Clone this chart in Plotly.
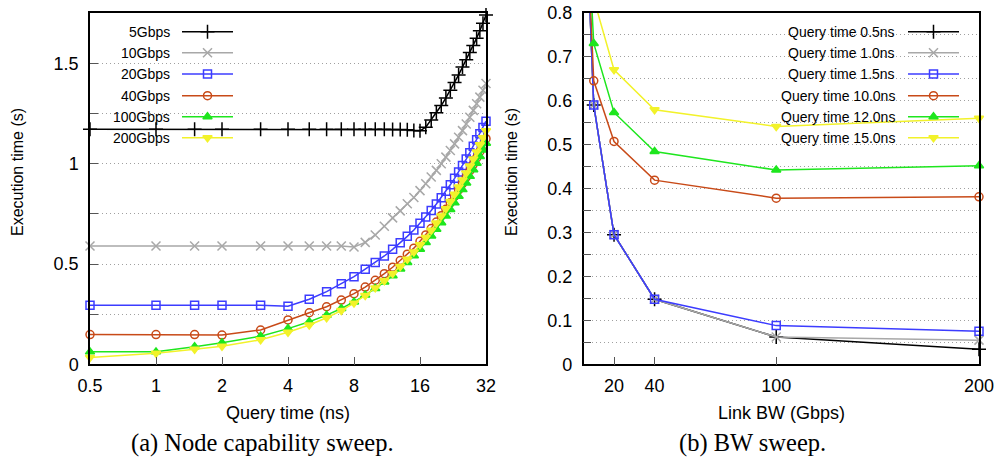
import math
import plotly.graph_objects as go

W, H = 998, 471

# ---------------- data ----------------
query_ns = [0.5, 1, 1.5, 2, 3, 4, 5, 6, 7, 8, 9, 10, 11, 12, 13, 14, 15, 16,
            17, 18, 19, 20, 21, 22, 23, 24, 25, 26, 27, 28, 29, 30, 31, 32]
query_ticks = [0.5, 1, 2, 4, 8, 16, 32]
query_ticktext = ["0.5", "1", "2", "4", "8", "16", "32"]

bw_gbps = [5, 10, 20, 40, 100, 200]
bw_labels = ["5Gbps", "10Gbps", "20Gbps", "40Gbps", "100Gbps", "200Gbps"]
bw_ticks = [20, 40, 100, 200]

exec_5g = [1.172, 1.172, 1.172, 1.172, 1.172, 1.172, 1.172, 1.172, 1.172, 1.172, 1.172, 1.172,
           1.172, 1.171, 1.171, 1.170, 1.166, 1.164, 1.182, 1.218, 1.254, 1.290, 1.328, 1.366,
           1.405, 1.443, 1.482, 1.518, 1.555, 1.590, 1.626, 1.663, 1.700, 1.742]
exec_10g = [0.590, 0.590, 0.590, 0.590, 0.590, 0.590, 0.590, 0.590, 0.590, 0.585, 0.608, 0.645,
            0.688, 0.730, 0.765, 0.800, 0.832, 0.866, 0.900, 0.934, 0.967, 1.000, 1.033, 1.066,
            1.099, 1.132, 1.165, 1.198, 1.232, 1.266, 1.299, 1.332, 1.366, 1.400]
exec_20g = [0.295, 0.295, 0.295, 0.295, 0.295, 0.289, 0.324, 0.362, 0.402, 0.437, 0.474, 0.507,
            0.540, 0.573, 0.606, 0.638, 0.670, 0.703, 0.735, 0.767, 0.799, 0.831, 0.863, 0.895,
            0.927, 0.959, 0.991, 1.023, 1.055, 1.087, 1.119, 1.150, 1.181, 1.212]
exec_40g = [0.148, 0.148, 0.148, 0.146, 0.171, 0.221, 0.257, 0.287, 0.320, 0.352, 0.385, 0.419,
            0.452, 0.484, 0.517, 0.549, 0.579, 0.613, 0.645, 0.677, 0.709, 0.741, 0.773, 0.805,
            0.837, 0.869, 0.901, 0.933, 0.965, 0.997, 1.029, 1.061, 1.093, 1.125]
exec_100g = [0.062, 0.062, 0.088, 0.107, 0.140, 0.178, 0.212, 0.245, 0.278, 0.311, 0.345, 0.378,
             0.410, 0.442, 0.475, 0.508, 0.541, 0.574, 0.607, 0.640, 0.673, 0.706, 0.739, 0.772,
             0.805, 0.838, 0.871, 0.904, 0.937, 0.970, 1.003, 1.036, 1.069, 1.102]
exec_200g = [0.034, 0.055, 0.075, 0.090, 0.122, 0.160, 0.196, 0.232, 0.268, 0.305, 0.343, 0.381,
             0.416, 0.452, 0.488, 0.524, 0.560, 0.596, 0.632, 0.668, 0.704, 0.740, 0.776, 0.812,
             0.848, 0.884, 0.919, 0.954, 0.989, 1.024, 1.059, 1.094, 1.129, 1.164]
exec_by_bw = [exec_5g, exec_10g, exec_20g, exec_40g, exec_100g, exec_200g]

sel_query = [0.5, 1.0, 1.5, 10, 12, 15]
sel_labels = ["Query time 0.5ns", "Query time 1.0ns", "Query time 1.5ns",
              "Query time 10.0ns", "Query time 12.0ns", "Query time 15.0ns"]

# ---------------- styles ----------------
colors = ["#000000", "#a8a8a8", "#3c3cff", "#c84a18", "#1ee61e", "#f2f22a"]
symbols = ["cross-thin-open", "x-thin-open", "square-open", "circle-open", "triangle-up", "triangle-down"]
msizes = [10, 9, 8, 8, 8, 8]
SANS = "Liberation Sans, Arial, sans-serif"
SERIF = "Liberation Serif, Times New Roman, serif"

# plot-area frames in pixels (left, right, top, bottom)
L1, R1, T1, B1 = 90.0, 486.0, 13.3, 364.3
L2, R2, T2, B2 = 583.6, 979.0, 12.7, 364.3


def px(x):
    return x / W


def py(y):
    return 1 - y / H


def marker(i, opacity=None):
    m = dict(symbol=symbols[i], size=msizes[i], color=colors[i],
             line=dict(color=colors[i], width=1.5))
    if opacity is not None:
        m["opacity"] = opacity
    return m


fig = go.Figure()

# left chart: execution time vs query time, one line per bandwidth
for i, ys in enumerate(exec_by_bw):
    fig.add_trace(go.Scatter(x=query_ns, y=ys, mode="lines+markers", name=bw_labels[i],
                             line=dict(color=colors[i], width=1.5), marker=marker(i),
                             cliponaxis=False, showlegend=False, xaxis="x", yaxis="y"))

# right chart: execution time vs link BW, one line per query time
Y2MAX = 0.8
for i, q in enumerate(sel_query):
    k = query_ns.index(q)
    ys = [series[k] for series in exec_by_bw]
    op = [1 if v <= Y2MAX else 0 for v in ys]
    fig.add_trace(go.Scatter(x=bw_gbps, y=ys, mode="lines+markers", name=sel_labels[i],
                             line=dict(color=colors[i], width=1.5), marker=marker(i, op),
                             cliponaxis=False, showlegend=False, xaxis="x2", yaxis="y2"))

# hand-made legends: text on the left, line sample on the right (as in the reference)
rows_y = [31.7, 52.7, 74.0, 95.7, 116.7, 137.7]
annotations = []
legends = [(bw_labels, 171.7, 182.0, 233.0), (sel_labels, 897.0, 908.0, 959.0)]
for labels, text_right, s0, s1 in legends:
    for i, lab in enumerate(labels):
        annotations.append(dict(text=lab, x=px(text_right), y=py(rows_y[i]), xref="paper", yref="paper",
                                xanchor="right", yanchor="middle", showarrow=False,
                                font=dict(family=SANS, size=14, color="#000")))
        fig.add_trace(go.Scatter(x=[s0, (s0 + s1) / 2, s1], y=[rows_y[i]] * 3, mode="lines+markers",
                                 line=dict(color=colors[i], width=1.5),
                                 marker=marker(i, [0, 1, 0]), cliponaxis=False,
                                 showlegend=False, hoverinfo="skip", xaxis="x3", yaxis="y3"))

# axis titles and captions
annotations += [
    dict(text="Query time (ns)", x=px(288), y=py(413), xref="paper", yref="paper", showarrow=False,
         xanchor="center", yanchor="middle", font=dict(family=SANS, size=18, color="#000")),
    dict(text="Link BW (Gbps)", x=px(781), y=py(413), xref="paper", yref="paper", showarrow=False,
         xanchor="center", yanchor="middle", font=dict(family=SANS, size=18, color="#000")),
    dict(text="Execution time (s)", x=px(18), y=py(172), xref="paper", yref="paper", showarrow=False,
         textangle=-90, xanchor="center", yanchor="middle", font=dict(family=SANS, size=16, color="#000")),
    dict(text="Execution time (s)", x=px(512), y=py(172), xref="paper", yref="paper", showarrow=False,
         textangle=-90, xanchor="center", yanchor="middle", font=dict(family=SERIF if False else SANS, size=16, color="#000")),
    dict(text="(a) Node capability sweep.", x=px(262), y=py(443), xref="paper", yref="paper",
         showarrow=False, xanchor="center", yanchor="middle", font=dict(family=SERIF, size=24.5, color="#000")),
    dict(text="(b) BW sweep.", x=px(752), y=py(443), xref="paper", yref="paper",
         showarrow=False, xanchor="center", yanchor="middle", font=dict(family=SERIF, size=24.5, color="#000")),
]

# opaque legend boxes: hide gridlines under the legends (data coordinates)
X1MIN, X1MAX = 0.5, 32
Y1MAX = 1.75
X2MIN, X2MAX = 5, 200
lx_span = math.log10(X1MAX) - math.log10(X1MIN)
box1_x1 = math.log10(X1MIN) + (242 - L1) / (R1 - L1) * lx_span
box1_y0 = (B1 - 150) / (B1 - T1) * Y1MAX
box2_x0 = X2MIN + (723 - L2) / (R2 - L2) * (X2MAX - X2MIN)
box2_x1 = X2MIN + (968 - L2) / (R2 - L2) * (X2MAX - X2MIN)
box2_y0 = (B2 - 155) / (B2 - T2) * Y2MAX
shapes = [
    dict(type="rect", xref="x", yref="y", x0=math.log10(X1MIN), x1=box1_x1, y0=box1_y0, y1=Y1MAX,
         fillcolor="white", line=dict(width=0), layer="below"),
    dict(type="rect", xref="x2", yref="y2", x0=box2_x0, x1=box2_x1, y0=box2_y0, y1=Y2MAX,
         fillcolor="white", line=dict(width=0), layer="below"),
]

common_x = dict(showline=True, mirror=True, linecolor="#000", linewidth=1.5, ticks="inside", ticklen=8,
                tickcolor="#555", tickwidth=1.2, showgrid=False, zeroline=False, ticklabelstandoff=4,
                automargin=False, tickfont=dict(family=SANS, size=18, color="#000"))
grid = dict(showgrid=True, gridcolor="#a0a0a0", gridwidth=1, griddash="1px,3px")
common_y = dict(showline=True, mirror=True, linecolor="#000", linewidth=1.5, ticks="inside", ticklen=8,
                tickcolor="#555", tickwidth=1.2, zeroline=False, ticklabelstandoff=6, automargin=False,
                tickfont=dict(family=SANS, size=18, color="#000"), **grid)

fig.update_layout(
    width=W, height=H, margin=dict(l=0, r=0, t=0, b=0, autoexpand=False),
    paper_bgcolor="white", plot_bgcolor="rgba(0,0,0,0)", showlegend=False,
    xaxis=dict(domain=[px(L1), px(R1)], type="log", range=[math.log10(X1MIN), math.log10(X1MAX)],
               tickvals=query_ticks, ticktext=query_ticktext, anchor="y", **common_x),
    yaxis=dict(domain=[py(B1), py(T1)], range=[0, Y1MAX], tick0=0, dtick=0.5, anchor="x",
               minor=dict(dtick=0.25, ticks="inside", ticklen=8, tickcolor="#555", **grid), **common_y),
    xaxis2=dict(domain=[px(L2), px(R2)], range=[X2MIN, X2MAX], tickvals=bw_ticks, anchor="y2", **common_x),
    yaxis2=dict(domain=[py(B2), py(T2)], range=[0, Y2MAX], tick0=0, dtick=0.1, anchor="x2",
                minor=dict(dtick=0.05, ticks="inside", ticklen=8, tickcolor="#555", **grid), **common_y),
    xaxis3=dict(domain=[0, 1], range=[0, W], visible=False, anchor="y3", fixedrange=True, automargin=False),
    yaxis3=dict(domain=[0, 1], range=[H, 0], visible=False, anchor="x3", fixedrange=True, automargin=False),
    annotations=annotations, shapes=shapes,
)

fig.write_html("out.html")
